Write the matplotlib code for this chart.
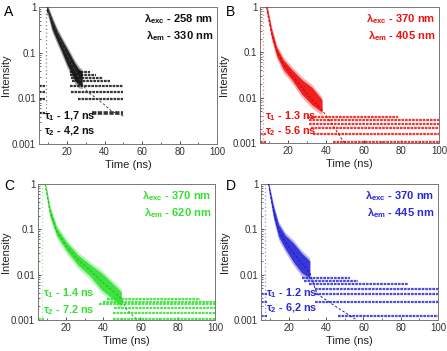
import matplotlib
matplotlib.use("Agg")
import matplotlib.pyplot as plt
from matplotlib.ticker import FixedLocator, NullFormatter, LogLocator

plt.rcParams['font.family'] = ['Liberation Sans', 'DejaVu Sans']
plt.rcParams['mathtext.fontset'] = 'custom'
plt.rcParams['mathtext.rm'] = 'Liberation Sans:bold'
plt.rcParams['mathtext.it'] = 'Liberation Sans:bold'
plt.rcParams['mathtext.bf'] = 'Liberation Sans:bold'

# ---------------- data ----------------
x_ticks = [20, 40, 60, 80, 100]
y_ticks = [0.001, 0.01, 0.1, 1]
y_tick_labels = ['0.001', '0.01', '0.1', '1']

# Panel A (black)
A_cloud_t = [9.0, 9.5, 12, 14.7, 17, 20, 22, 24, 26, 28]
A_cloud_hi = [1.0, 1.0, 0.55, 0.30, 0.20, 0.12, 0.085, 0.06, 0.045, 0.038]
A_cloud_lo = [0.75, 0.8, 0.33, 0.18, 0.11, 0.055, 0.038, 0.025, 0.02, 0.019]
A_band_level = [0.0047, 0.0095, 0.014, 0.019, 0.024, 0.028, 0.033, 0.038, 0.0047, 0.0095, 0.014, 0.019]
A_band_start = [33.3, 25.7, 22.3, 21.8, 22.7, 22.0, 21.4, 21.8, 5.2, 5.2, 5.2, 5.2]
A_band_end = [50, 50, 50, 50, 43, 39, 35.5, 32, 8.4, 8.4, 8.4, 8.4]
A_fit_t = [9.3, 12, 15, 20, 25, 30.7, 35, 40, 44, 50]
A_fit_y = [1.0, 0.5, 0.26, 0.09, 0.035, 0.014, 0.0105, 0.0072, 0.0051, 0.0041]
A_rise_t = 9.0
A_rise_lo = 0.005

# Panel B (red)
B_cloud_t = [8.4, 9.0, 11.1, 13.8, 17.4, 21.9, 27.2, 32.5, 37.9]
B_cloud_hi = [1.0, 0.9, 0.33, 0.13, 0.068, 0.042, 0.025, 0.017, 0.009]
B_cloud_lo = [0.85, 0.7, 0.22, 0.085, 0.042, 0.025, 0.012, 0.007, 0.0048]
B_band_level = [0.00105, 0.0016, 0.0021, 0.0026, 0.0032, 0.0037, 0.00105, 0.0016]
B_band_start = [44, 33, 32, 31, 31, 30, 5.2, 5.2]
B_band_end = [100, 100, 100, 100, 100, 78, 8.0, 8.0]
B_fit_t = [8.4, 11, 14, 17.5, 22, 27, 32, 38, 43, 48.5, 50]
B_fit_y = [1.0, 0.27, 0.105, 0.055, 0.032, 0.017, 0.0095, 0.0053, 0.0027, 0.0012, 0.001]
B_rise_t = 6.7
B_rise_lo = 0.001

# Panel C (green)
C_cloud_t = [8.8, 9.5, 11.4, 15, 20.3, 26.6, 32.8, 39, 44.4, 49.7]
C_cloud_hi = [1.0, 0.8, 0.3, 0.11, 0.052, 0.027, 0.017, 0.011, 0.0068, 0.0042]
C_cloud_lo = [0.85, 0.6, 0.2, 0.074, 0.034, 0.016, 0.0095, 0.0047, 0.0031, 0.0021]
C_band_level = [0.00105, 0.00144, 0.0018, 0.0022, 0.0025, 0.0029, 0.00105]
C_band_start = [45, 45, 46, 37.5, 40, 42, 5.2]
C_band_end = [100, 100, 100, 100, 100, 92, 8.0]
C_fit_t = [8.8, 11.4, 15, 20.3, 26.6, 32.8, 39, 44.4, 49.7, 52.5, 57.8]
C_fit_y = [1.0, 0.25, 0.09, 0.042, 0.021, 0.0127, 0.0071, 0.0046, 0.003, 0.0017, 0.00105]
C_rise_t = 7.2
C_rise_lo = 0.001

# Panel D (blue)
D_cloud_t = [9.0, 9.5, 11.7, 14.4, 17.9, 22.4, 26.8, 31.2]
D_cloud_hi = [1.0, 0.85, 0.32, 0.13, 0.075, 0.05, 0.03, 0.02]
D_cloud_lo = [0.85, 0.65, 0.19, 0.07, 0.038, 0.019, 0.011, 0.0085]
D_band_level = [0.00122, 0.00245, 0.0037, 0.0049, 0.0061, 0.0073, 0.0085, 0.00122, 0.00245, 0.0037]
D_band_start = [46.3, 33.8, 33.8, 34, 31, 28, 27, 5.2, 5.2, 5.2]
D_band_end = [100, 100, 100, 100, 84, 57, 53, 8.2, 8.2, 8.2]
D_fit_t = [9.0, 11.7, 14.4, 17.9, 22.4, 26.8, 31.2, 35, 45, 55.6]
D_fit_y = [1.0, 0.25, 0.097, 0.054, 0.03, 0.018, 0.011, 0.0038, 0.002, 0.00105]
D_rise_t = 7.0
D_rise_lo = 0.001

A_labels = [r'$\lambda_{\rm exc}$ - 258 nm', r'$\lambda_{\rm em}$ - 330 nm', r'$\tau_1$ - 1,7 ns', r'$\tau_2$ - 4,2 ns']
B_labels = [r'$\lambda_{\rm exc}$ - 370 nm', r'$\lambda_{\rm em}$ - 405 nm', r'$\tau_1$ - 1.3 ns', r'$\tau_2$ - 5.6 ns']
C_labels = [r'$\lambda_{\rm exc}$ - 370 nm', r'$\lambda_{\rm em}$ - 620 nm', r'$\tau_1$ - 1.4 ns', r'$\tau_2$ - 7.2 ns']
D_labels = [r'$\lambda_{\rm exc}$ - 370 nm', r'$\lambda_{\rm em}$ - 445 nm', r'$\tau_1$ - 1.2 ns', r'$\tau_2$ - 6,2 ns']

# ---------------- figure ----------------
W, H = 447, 351
fig = plt.figure(figsize=(W / 100, H / 100), dpi=100)


def px_axes(l, t, r, b):
    return fig.add_axes([l / W, 1 - b / H, (r - l) / W, (b - t) / H])


def draw(ax, color, fitcolor, ct, chi, clo, bl, bs, be, ft, fy, rt, rlo, labels, tau_y, ylab_x,
         thick_first=False):
    ax.set_yscale('log')
    ax.set_xlim(5, 100)
    ax.set_ylim(0.001, 1)
    # quantised count levels
    for i, (lv, s, e) in enumerate(zip(bl, bs, be)):
        lw = 2.6 if (thick_first and i == 0) else 1.6
        ax.plot([s, e], [lv, lv], color=color, lw=lw, ls=(0, (1.2, 0.4)), alpha=0.85,
                solid_capstyle='butt', zorder=2)
    # rising edge column
    ax.plot([rt, rt], [rlo, 1], color=color, lw=0.9, ls=(0, (1, 2)), alpha=0.5, zorder=2)
    # dense decay cloud
    ax.fill_between(ct, [v * 0.85 for v in clo], [v * 1.15 for v in chi], color=color,
                    alpha=0.35, lw=0, zorder=3)
    ax.fill_between(ct, clo, chi, color=color, alpha=0.9, lw=0, zorder=3)
    # fit
    ax.plot(ft, fy, color=fitcolor, lw=0.7, ls=(0, (2.5, 2)), zorder=4)

    ax.set_xticks(x_ticks)
    ax.xaxis.set_minor_locator(FixedLocator([10, 30, 50, 70, 90]))
    ax.yaxis.set_major_locator(FixedLocator(y_ticks))
    ax.set_yticklabels(y_tick_labels)
    ax.yaxis.set_minor_locator(LogLocator(base=10, subs=(2, 3, 4, 5, 6, 7, 8, 9)))
    ax.yaxis.set_minor_formatter(NullFormatter())
    ax.tick_params(which='both', direction='in', labelsize=7, colors='#333333', pad=2)
    ax.tick_params(which='major', length=2.5, width=0.6)
    ax.tick_params(which='minor', length=1.2, width=0.5)
    for sp in ax.spines.values():
        sp.set_color('#777777')
        sp.set_linewidth(0.7)
    ax.set_xlabel('Time (ns)', fontsize=8, color='#222222', labelpad=2)
    ax.set_ylabel('Intensity', fontsize=8, color='#222222')
    ax.yaxis.set_label_coords(ylab_x, 0.5)

    ax.text(0.98, 0.965, labels[0], transform=ax.transAxes, ha='right', va='top',
            fontsize=8, fontweight='bold', color=color)
    ax.text(0.98, 0.84, labels[1], transform=ax.transAxes, ha='right', va='top',
            fontsize=8, fontweight='bold', color=color)
    ax.text(0.03, tau_y[0], labels[2], transform=ax.transAxes, ha='left', va='center',
            fontsize=7.8, fontweight='bold', color=color, zorder=6)
    ax.text(0.03, tau_y[1], labels[3], transform=ax.transAxes, ha='left', va='center',
            fontsize=7.8, fontweight='bold', color=color, zorder=6)


axA = px_axes(39, 7, 217, 144)
axB = px_axes(260, 7, 439, 143)
axC = px_axes(38, 184, 215, 320)
axD = px_axes(261, 184, 438, 320)

draw(axA, '#111111', '#444444', A_cloud_t, A_cloud_hi, A_cloud_lo, A_band_level, A_band_start,
     A_band_end, A_fit_t, A_fit_y, A_rise_t, A_rise_lo, A_labels, (0.20, 0.095), -28 / 178,
     thick_first=True)
draw(axB, '#ee1111', '#cc0000', B_cloud_t, B_cloud_hi, B_cloud_lo, B_band_level, B_band_start,
     B_band_end, B_fit_t, B_fit_y, B_rise_t, B_rise_lo, B_labels, (0.20, 0.085), -31 / 179)
draw(axC, '#33e033', '#22b022', C_cloud_t, C_cloud_hi, C_cloud_lo, C_band_level, C_band_start,
     C_band_end, C_fit_t, C_fit_y, C_rise_t, C_rise_lo, C_labels, (0.20, 0.075), -27 / 177)
draw(axD, '#2a2ad8', '#1a1ab0', D_cloud_t, D_cloud_hi, D_cloud_lo, D_band_level, D_band_start,
     D_band_end, D_fit_t, D_fit_y, D_rise_t, D_rise_lo, D_labels, (0.20, 0.085), -31 / 177)

for letter, (lx, ly) in zip(['A', 'B', 'C', 'D'], [(4, 12), (226, 12), (4, 186), (226, 186)]):
    fig.text(lx / W, 1 - ly / H, letter, ha='left', va='center', fontsize=10, color='black')

fig.savefig('out.png', dpi=100)
